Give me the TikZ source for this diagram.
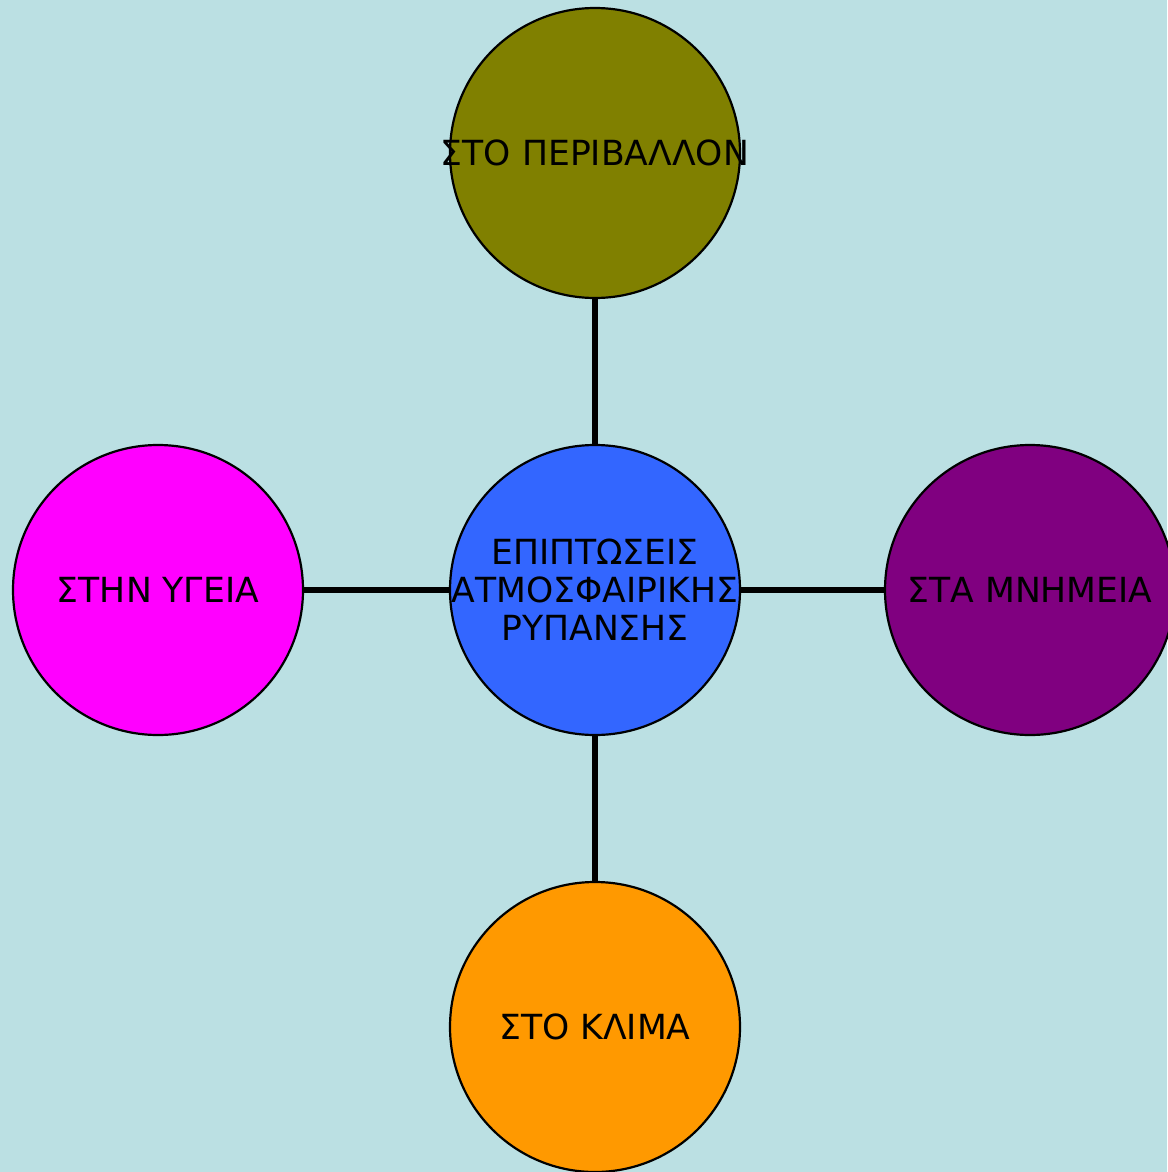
\documentclass[tikz,border=0pt]{standalone}
\usepackage{fontspec}
\setmainfont{DejaVu Sans}
\usetikzlibrary{positioning}
\definecolor{bgblue}{HTML}{BBE0E3}
\definecolor{epiblue}{HTML}{3366FF}
\definecolor{olive}{HTML}{808000}
\definecolor{magent}{HTML}{FF00FF}
\definecolor{purpl}{HTML}{800080}
\definecolor{orang}{HTML}{FF9900}

\begin{document}
\begin{tikzpicture}[x=0.5pt,y=-0.5pt,
                    bubble/.style={circle,draw=black,line width=1.1pt,inner sep=0pt,
                                   minimum size=145pt},
                    words/.style={align=center,text=black,inner sep=0pt,
                                  font=\fontsize{17.3}{19}\selectfont},
                    link/.style={line width=2.6pt,black}]
  \fill[bgblue] (0,0) rectangle (1167,1172);
  \useasboundingbox (0,0) rectangle (1167,1172);

     \node[bubble,fill=epiblue,label={[words]center:ΕΠΙΠΤΩΣΕΙΣ\\ΑΤΜΟΣΦΑΙΡΙΚΗΣ\\ΡΥΠΑΝΣΗΣ}] (epi)   at (595,590)  {};

  \node[bubble,fill=olive,label={[words]center:ΣΤΟ ΠΕΡΙΒΑΛΛΟΝ}] (perib)   at (595,153)  {};

   \node[bubble,fill=magent,label={[words]center:ΣΤΗΝ ΥΓΕΙΑ}] (ygeia) at (158,590)	{};

    \node[bubble,fill=purpl,label={[words]center:ΣΤΑ ΜΝΗΜΕΙΑ}] (mnim) at (1030,590)	{};

  \node[bubble,fill=orang,label={[words]center:ΣΤΟ ΚΛΙΜΑ}] (klima) at (595,1027)	{};

  \path[link]
  	  (epi) edge (perib)
  	  (epi) edge (ygeia)
  	  (epi) edge (mnim)
  	  (epi) edge (klima);

\end{tikzpicture}
\end{document}
